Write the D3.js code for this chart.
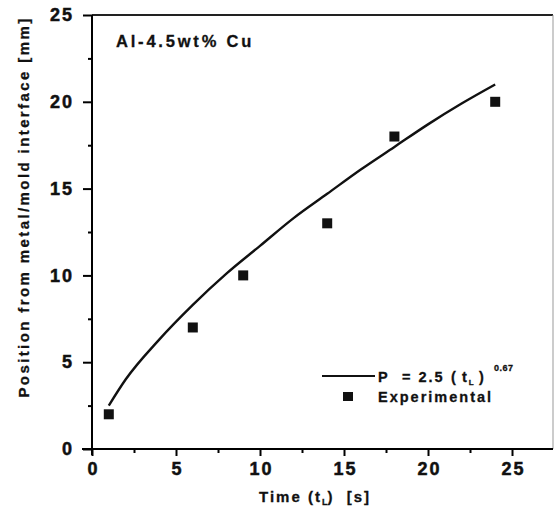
<!DOCTYPE html>
<html>
<head>
<meta charset="utf-8">
<script src="https://cdn.jsdelivr.net/npm/d3@7"></script>
<style>
  body { margin: 0; background: #fff; }
  svg text { font-family: "Liberation Sans", Arial, sans-serif; font-weight: bold; fill: #111; white-space: pre; }
</style>
</head>
<body>
<div id="chart"></div>
<script>
// Experimental points
const expTime = [1, 6, 9, 14, 18, 24];
const expPos = [2, 7, 10, 13, 18, 20];

// Fitted curve P = 2.5 (tL)^0.67
const fitTime = [1, 2, 4, 6, 8, 10, 12, 14, 16, 18, 20, 22, 24];
const fitPos = [2.5, 4.0, 6.3, 8.3, 10.1, 11.7, 13.3, 14.7, 16.1, 17.4, 18.7, 19.9, 21.0];

const xTicks = [0, 5, 10, 15, 20, 25];
const yTicks = [0, 5, 10, 15, 20, 25];

const W = 554, H = 508;
const pLeft = 92, pRight = 553, pTop = 15, pBottom = 449;

const svg = d3.select("#chart").append("svg")
  .attr("width", W)
  .attr("height", H);

const x = d3.scaleLinear().domain([0, 27.44]).range([pLeft, pRight]);
const y = d3.scaleLinear().domain([0, 25]).range([pBottom, pTop]);

// frame: top and right
svg.append("line")
  .attr("x1", pLeft).attr("x2", pRight)
  .attr("y1", pTop).attr("y2", pTop)
  .attr("stroke", "#222").attr("stroke-width", 2);
svg.append("line")
  .attr("x1", pRight).attr("x2", pRight)
  .attr("y1", pTop).attr("y2", pBottom)
  .attr("stroke", "#999").attr("stroke-width", 1);

// minor ticks
const xMinor = d3.range(2.5, 27.5, 5);
const yMinor = d3.range(2.5, 25, 5);

svg.append("g")
  .attr("transform", `translate(0,${pBottom})`)
  .call(d3.axisBottom(x).tickValues(xMinor).tickSize(4).tickSizeOuter(0).tickFormat(""))
  .call(g => g.select(".domain").remove())
  .call(g => g.selectAll("line").attr("stroke-width", 2));

svg.append("g")
  .attr("transform", `translate(${pLeft},0)`)
  .call(d3.axisLeft(y).tickValues(yMinor).tickSize(4).tickSizeOuter(0).tickFormat(""))
  .call(g => g.select(".domain").remove())
  .call(g => g.selectAll("line").attr("stroke-width", 2));

// major axes
const xAxis = svg.append("g")
  .attr("transform", `translate(0,${pBottom})`)
  .call(d3.axisBottom(x).tickValues(xTicks).tickSize(7).tickSizeOuter(0).tickPadding(6));
xAxis.select(".domain").attr("stroke-width", 2).attr("d", `M${pLeft - 10},0H${pRight}`);
xAxis.selectAll("line").attr("stroke-width", 2);
xAxis.selectAll("text")
  .attr("dx", 1)
  .attr("stroke", "#111").attr("stroke-width", 0.5)
  .style("font-size", "18px").style("letter-spacing", "2px");

const yAxis = svg.append("g")
  .attr("transform", `translate(${pLeft},0)`)
  .call(d3.axisLeft(y).tickValues(yTicks).tickSize(9).tickSizeOuter(0).tickPadding(9));
yAxis.select(".domain").attr("stroke-width", 2).attr("d", `M0,${pBottom + 6}V${pTop}`);
yAxis.selectAll("line").attr("stroke-width", 2);
yAxis.selectAll("text")
  .attr("stroke", "#111").attr("stroke-width", 0.5)
  .style("font-size", "18px").style("letter-spacing", "2px");

// axis labels
svg.append("text")
  .attr("transform", `translate(29,207) rotate(-90)`)
  .attr("text-anchor", "middle")
  .attr("stroke", "#111").attr("stroke-width", 0.3)
  .style("font-size", "15px").style("letter-spacing", "2.4px")
  .text("Position from metal/mold interface [mm]");

const xl = svg.append("text")
  .attr("x", 259).attr("y", 502)
  .attr("stroke", "#111").attr("stroke-width", 0.3)
  .style("font-size", "15px").style("letter-spacing", "2px");
xl.append("tspan").text("Time (t");
xl.append("tspan").attr("dy", 3).style("font-size", "9px").style("letter-spacing", "0px").text("L");
xl.append("tspan").attr("dy", -3).text(")  [s]");

// annotation
svg.append("text")
  .attr("x", 116).attr("y", 47)
  .attr("stroke", "#111").attr("stroke-width", 0.3)
  .style("font-size", "16.5px").style("letter-spacing", "2.8px")
  .text("Al-4.5wt% Cu");

// fitted curve
const line = d3.line()
  .x(d => x(d[0]))
  .y(d => y(d[1]))
  .curve(d3.curveMonotoneX);

svg.append("path")
  .datum(fitTime.map((t, i) => [t, fitPos[i]]))
  .attr("d", line)
  .attr("fill", "none")
  .attr("stroke", "#111")
  .attr("stroke-width", 2.4);

// experimental squares
const sq = 10;
svg.append("g")
  .selectAll("rect")
  .data(expTime.map((t, i) => [t, expPos[i]]))
  .join("rect")
  .attr("x", d => x(d[0]) - sq / 2)
  .attr("y", d => y(d[1]) - sq / 2)
  .attr("width", sq)
  .attr("height", sq)
  .attr("fill", "#111");

// legend
svg.append("line")
  .attr("x1", 322).attr("x2", 375)
  .attr("y1", 376).attr("y2", 376)
  .attr("stroke", "#111").attr("stroke-width", 2);
const lt = svg.append("text")
  .attr("y", 382)
  .attr("stroke", "#111").attr("stroke-width", 0.3)
  .style("font-size", "14.5px").style("letter-spacing", "2px");
lt.append("tspan").attr("x", 378).text("P");
lt.append("tspan").attr("x", 402).text("= 2.5");
lt.append("tspan").attr("x", 451).text("(");
lt.append("tspan").attr("x", 462).text("t");
lt.append("tspan").attr("dy", 3).style("font-size", "8px").style("letter-spacing", "0px").text("L");
lt.append("tspan").attr("x", 479).attr("dy", -3).text(")");
lt.append("tspan").attr("x", 494).attr("dy", -11).style("font-size", "9px").style("letter-spacing", "0.5px").text("0.67");

svg.append("rect")
  .attr("x", 343).attr("y", 392)
  .attr("width", 10).attr("height", 9)
  .attr("fill", "#111");
svg.append("text")
  .attr("x", 378).attr("y", 402)
  .attr("stroke", "#111").attr("stroke-width", 0.3)
  .style("font-size", "14.5px").style("letter-spacing", "2px")
  .text("Experimental");
</script>
</body>
</html>
